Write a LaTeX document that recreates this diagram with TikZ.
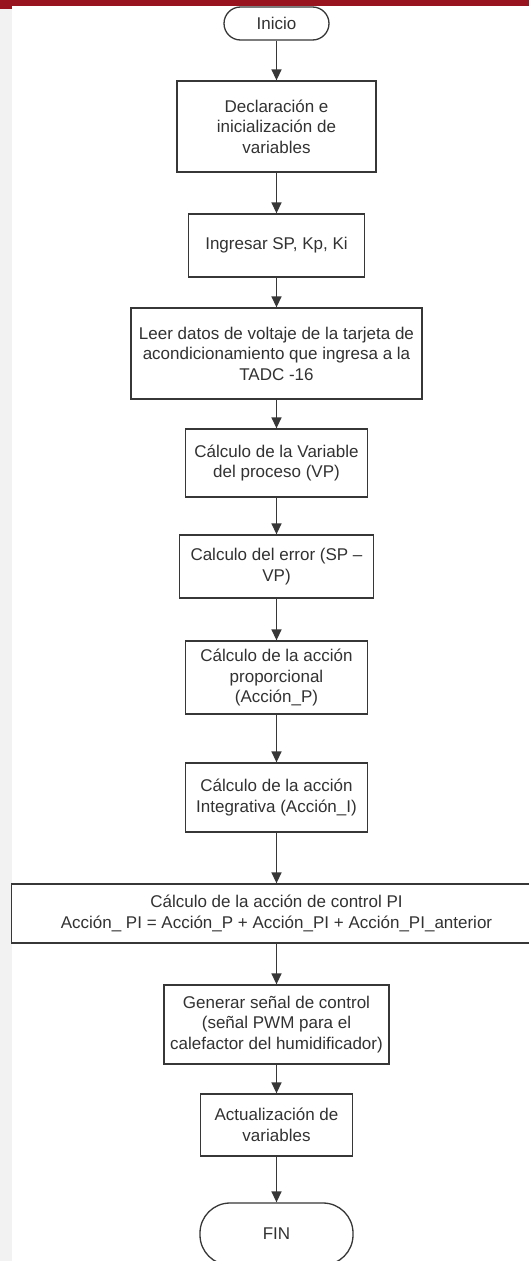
\documentclass[tikz,border=0pt]{standalone}
\usepackage{fontspec}
\setmainfont{Liberation Sans}
\usetikzlibrary{arrows.meta}
\definecolor{barred}{RGB}{152,20,30}
\definecolor{inkgray}{RGB}{50,50,50}
\definecolor{edgegray}{RGB}{55,55,55}
\definecolor{stripgray}{RGB}{242,242,242}
\begin{document}
\begin{tikzpicture}[x=1pt,y=-1pt,
  every node/.style={font=\fontsize{17}{20.5}\selectfont, text=inkgray},
  procbox/.style={draw=edgegray, line width=1.3pt, fill=white, align=center, inner sep=0pt},
  flow/.style={draw=edgegray, line width=1.4pt, -{Triangle[length=11pt,width=10pt]}}
]
\useasboundingbox (0,0) rectangle (529,1261);
\clip (0,0) rectangle (529,1261);
\fill[white] (0,0) rectangle (529,1261);

% page decoration: header bar and left margin strip
\fill[stripgray] (0,9) rectangle (12,1261);
\fill[barred] (0,0) rectangle (529,6);
\fill[barred] (0,0) rectangle (12,9);

% flowchart nodes
\node[procbox, rounded corners=16.5pt, minimum width=105pt, minimum height=33pt] (start) at (276.5,23.5) {Inicio};
\node[procbox, minimum width=199pt, minimum height=91pt] (decl) at (276.5,126.5) {Declaración e\\inicialización de\\variables};
\node[procbox, minimum width=176pt, minimum height=63pt] (input) at (276.5,245.5) {Ingresar SP, Kp, Ki};
\node[procbox, minimum width=291pt, minimum height=91pt] (read) at (276.5,353.5) {Leer datos de voltaje de la tarjeta de\\acondicionamiento que ingresa a la\\TADC -16};
\node[procbox, minimum width=182pt, minimum height=68pt] (pv) at (276.5,463) {Cálculo de la Variable\\del proceso (VP)};
\node[procbox, minimum width=194pt, minimum height=63pt] (err) at (276.5,566.5) {Calculo del error (SP --\\VP)};
\node[procbox, minimum width=182pt, minimum height=73pt] (prop) at (276.5,677.5) {Cálculo de la acción\\proporcional\\(Acción\_P)};
\node[procbox, minimum width=182pt, minimum height=69pt] (integ) at (276.5,797.5) {Cálculo de la acción\\Integrativa (Acción\_I)};
\node[procbox, minimum width=530pt, minimum height=59pt] (ctrl) at (276.5,913.5) {Cálculo de la acción de control PI\\Acción\_ PI = Acción\_P + Acción\_PI + Acción\_PI\_anterior};
\node[procbox, minimum width=225pt, minimum height=79pt] (pwm) at (276.5,1024.5) {Generar señal de control\\(señal PWM para el\\calefactor del humidificador)};
\node[procbox, minimum width=152pt, minimum height=62pt] (upd) at (276.5,1125) {Actualización de\\variables};
\node[procbox, rounded corners=30pt, minimum width=153pt, minimum height=62pt] (stop) at (276.5,1234) {FIN};

% connectors
\draw[flow] (start.south) -- (decl.north);
\draw[flow] (decl.south) -- (input.north);
\draw[flow] (input.south) -- (read.north);
\draw[flow] (read.south) -- (pv.north);
\draw[flow] (pv.south) -- (err.north);
\draw[flow] (err.south) -- (prop.north);
\draw[flow] (prop.south) -- (integ.north);
\draw[flow] (integ.south) -- (ctrl.north);
\draw[flow] (ctrl.south) -- (pwm.north);
\draw[flow] (pwm.south) -- (upd.north);
\draw[flow] (upd.south) -- (stop.north);
\end{tikzpicture}
\end{document}
